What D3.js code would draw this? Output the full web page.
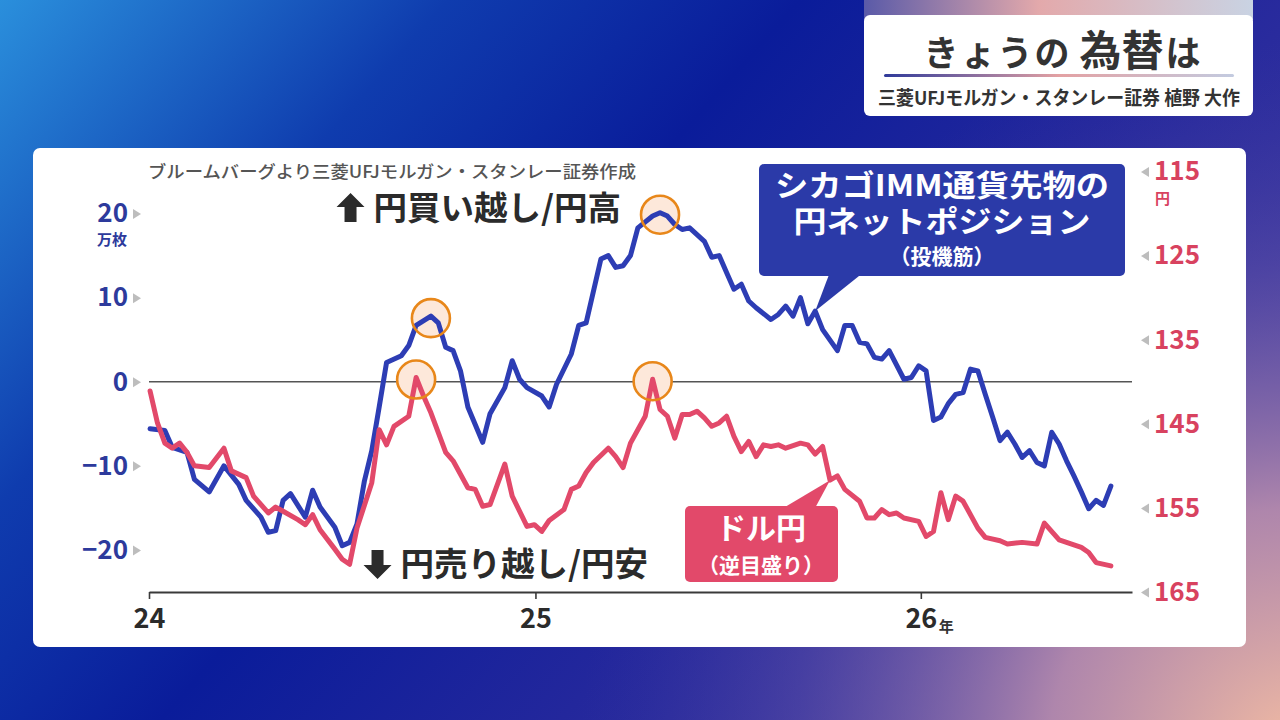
<!DOCTYPE html>
<html>
<head>
<meta charset="utf-8">
<script src="https://cdnjs.cloudflare.com/ajax/libs/d3/7.8.5/d3.min.js"></script>
<style>
  html, body { margin: 0; padding: 0; background: #0a1d9a; }
  svg { display: block; }
  text { font-family: "Noto Sans CJK JP", "Noto Sans", sans-serif; }
</style>
</head>
<body>
<svg id="chart" width="1280" height="720"></svg>
<script>
// IMM yen net position (10k contracts) as [week since 2024-01-02, value]
const immNetPosition = [
  [0,-5.6],[2,-5.8],[3,-7.8],[5,-8.4],[6,-11.6],[8,-13.1],[10,-10.0],[12,-12.2],
  [13,-14.1],[15,-16.1],[16,-17.9],[17,-17.7],[18,-14.1],[19,-13.3],[21,-16.1],
  [22,-12.9],[23,-14.9],[25,-17.3],[26,-19.5],[27,-19.1],[28,-16.9],[29,-11.8],
  [30,-8.2],[31,-3.0],[32,2.3],[34,3.1],[35,4.3],[36,6.7],[38,7.8],[39,7.0],
  [40,4.1],[41,3.7],[42,1.3],[43,-3.0],[45,-7.2],[46,-3.8],[48,-0.7],[49,2.5],
  [50,0.3],[51,-0.7],[53,-1.7],[54,-3.0],[55,-0.3],[57,3.3],[58,6.7],[59,7.0],
  [61,14.6],[62,15.0],[63,13.6],[64,13.8],[65,15.0],[66,18.3],[68,19.7],[69,20.1],
  [70,19.7],[71,18.7],[72,18.1],[73,18.3],[74,17.5],[75,16.7],[76,14.8],[77,15.0],
  [78,13.0],[79,11.0],[80,11.6],[81,9.6],[82,8.8],[84,7.4],[85,8.0],[86,9.0],
  [87,7.8],[88,10.0],[89,6.9],[90,8.4],[91,6.2],[93,3.7],[94,6.7],[95,6.7],
  [96,4.7],[97,4.5],[98,2.9],[99,2.7],[100,3.7],[102,0.3],[103,0.5],[104,1.9],
  [105,1.3],[106,-4.6],[107,-4.2],[108,-2.6],[109,-1.5],[110,-1.3],[111,1.5],
  [112,1.3],[113,-1.5],[114,-4.2],[115,-7.0],[116,-6.0],[117,-7.4],[118,-9.0],
  [119,-8.2],[120,-9.6],[121,-10.0],[122,-6.0],[123,-7.4],[124,-9.4],[125,-11.2],
  [126,-13.1],[127,-15.1],[128,-14.1],[129,-14.7],[130,-12.4]
];

// USD/JPY (inverted axis) as [week since 2024-01-02, yen]
const usdJpy = [
  [0,141.1],[1,144.9],[2,147.3],[3,147.9],[4,147.3],[5,148.4],[6,150.0],[8,150.2],
  [10,147.9],[11,150.6],[13,151.4],[14,153.6],[16,155.6],[17,154.9],[18,155.4],
  [20,156.4],[21,157.0],[22,155.8],[23,157.6],[25,159.9],[26,161.1],[27,161.7],
  [28,157.4],[30,152.0],[31,145.7],[32,147.5],[33,145.3],[35,144.1],[36,139.5],
  [37,141.7],[38,143.7],[40,148.4],[41,149.4],[43,152.6],[44,152.8],[45,154.8],
  [46,154.6],[48,149.8],[49,153.6],[51,157.2],[52,157.0],[53,157.8],[54,156.5],
  [56,155.2],[57,152.8],[58,152.4],[59,150.8],[60,149.6],[62,147.9],[63,148.9],
  [64,150.2],[65,147.3],[67,144.1],[68,139.7],[69,143.3],[70,144.1],[71,146.7],
  [72,143.9],[73,143.9],[74,143.5],[75,144.3],[76,145.3],[77,144.9],[78,144.1],
  [79,146.5],[80,148.3],[81,147.1],[82,148.9],[83,147.5],[84,147.7],[85,147.5],
  [86,147.9],[88,147.3],[89,147.5],[90,148.6],[91,147.7],[92,151.7],[93,151.2],
  [94,152.8],[96,154.2],[97,156.2],[98,156.2],[99,155.2],[100,155.8],[101,155.6],
  [102,156.2],[104,156.6],[105,158.4],[106,157.8],[107,153.2],[108,156.4],
  [109,153.6],[110,154.2],[112,157.4],[113,158.5],[115,158.9],[116,159.3],
  [118,159.1],[120,159.3],[121,156.8],[123,158.8],[124,159.1],[126,159.7],
  [127,160.3],[128,161.5],[130,161.9]
];

const leftTicks = [20, 10, 0, -10, -20];
const rightTicks = [115, 125, 135, 145, 155, 165];
const yearTicks = [2024, 2025, 2026];

// peaks marked with circles (week numbers)
const blueMarks = [38, 69];
const redMarks = [36, 68];

const startDate = new Date(2024, 0, 2);
const weekDate = w => d3.timeDay.offset(startDate, 7 * w);

const BLUE = "#2d3db4";
const RED = "#e2496a";
const NAVY = "#2d3a9c";

const svg = d3.select("#chart").attr("viewBox", "0 0 1280 720");
const defs = svg.append("defs");

// ---- background ----
const bg = defs.append("linearGradient").attr("id", "bg")
  .attr("x1", 0).attr("y1", 0).attr("x2", 1).attr("y2", 0.5);
[["0%", "#2a8fdc"], ["28%", "#0f3cae"], ["50%", "#0a1c9a"], ["75%", "#23279c"], ["100%", "#3a36a0"]]
  .forEach(([o, c]) => bg.append("stop").attr("offset", o).attr("stop-color", c));

const pink = defs.append("radialGradient").attr("id", "pink")
  .attr("gradientUnits", "userSpaceOnUse")
  .attr("cx", 1300).attr("cy", 760).attr("r", 720);
[["0%", "#f5bea2", 1], ["35%", "#c394ae", 0.85], ["70%", "#6a58a8", 0.4], ["100%", "#3a36a0", 0]]
  .forEach(([o, c, op]) => pink.append("stop").attr("offset", o).attr("stop-color", c).attr("stop-opacity", op));

svg.append("rect").attr("width", 1280).attr("height", 720).attr("fill", "url(#bg)");
svg.append("rect").attr("width", 1280).attr("height", 720).attr("fill", "url(#pink)");

// ---- title panel (top right) ----
const strip = defs.append("linearGradient").attr("id", "strip");
[["0%", "#5a5aa8"], ["45%", "#e3a9ab"], ["100%", "#c9d3e3"]]
  .forEach(([o, c]) => strip.append("stop").attr("offset", o).attr("stop-color", c));
const uline = defs.append("linearGradient").attr("id", "uline");
[["0%", "#2f3a9a"], ["50%", "#e3a1a3"], ["100%", "#c3cbe0"]]
  .forEach(([o, c]) => uline.append("stop").attr("offset", o).attr("stop-color", c));

svg.append("rect").attr("x", 864).attr("y", 0).attr("width", 389).attr("height", 20).attr("fill", "url(#strip)");
svg.append("rect").attr("x", 864).attr("y", 15).attr("width", 389).attr("height", 101).attr("rx", 6).attr("fill", "#fff");
svg.append("rect").attr("x", 884).attr("y", 74).attr("width", 350).attr("height", 3).attr("rx", 1.5).attr("fill", "url(#uline)");

const title = svg.append("text").attr("x", 1062).attr("y", 66)
  .attr("text-anchor", "middle").attr("fill", "#333").attr("font-weight", 700);
title.append("tspan").attr("font-size", 35).attr("letter-spacing", 2).text("きょうの");
title.append("tspan").attr("font-size", 42).attr("dx", 8).text("為替");
title.append("tspan").attr("font-size", 35).attr("dx", 2).text("は");

svg.append("text").attr("x", 1059).attr("y", 105)
  .attr("text-anchor", "middle").attr("fill", "#333").attr("font-weight", 700)
  .attr("font-size", 19).attr("textLength", 362).attr("lengthAdjust", "spacingAndGlyphs")
  .text("三菱UFJモルガン・スタンレー証券 植野 大作");

// ---- chart card ----
svg.append("rect").attr("x", 33).attr("y", 148).attr("width", 1213).attr("height", 499)
  .attr("rx", 7).attr("fill", "#fff");

svg.append("text").attr("x", 148).attr("y", 178)
  .attr("fill", "#555").attr("font-size", 17).attr("font-weight", 500)
  .attr("textLength", 488).attr("lengthAdjust", "spacingAndGlyphs")
  .text("ブルームバーグより三菱UFJモルガン・スタンレー証券作成");

// ---- scales ----
const x = d3.scaleTime()
  .domain([new Date(2024, 0, 1), new Date(2026, 6, 20)])
  .range([149, 1132]);
const yL = d3.scaleLinear().domain([-25, 25]).range([592, 171.5]);
const yR = d3.scaleLinear().domain([165, 115]).range([592, 171.5]);

// zero line
svg.append("line")
  .attr("x1", x.range()[0]).attr("x2", x.range()[1])
  .attr("y1", yL(0)).attr("y2", yL(0))
  .attr("stroke", "#555").attr("stroke-width", 1.6);

// x axis
const xAxis = svg.append("g").attr("transform", `translate(0,${yL(-25)})`)
  .call(d3.axisBottom(x)
    .tickValues(yearTicks.map(y => new Date(y, 0, 1)))
    .tickSizeInner(7).tickSizeOuter(0).tickPadding(10)
    .tickFormat(d => String(d.getFullYear()).slice(2)));
xAxis.select(".domain").attr("stroke", "#3a3a3a").attr("stroke-width", 2.2);
xAxis.selectAll(".tick line").attr("stroke", "#3a3a3a").attr("stroke-width", 1.6);
xAxis.selectAll(".tick text")
  .attr("font-family", '"Noto Sans CJK JP", sans-serif')
  .attr("font-size", 27).attr("font-weight", 700).attr("fill", "#2b2b2b");
svg.append("text").attr("x", x(new Date(2026, 0, 1)) + 18).attr("y", 632)
  .attr("font-size", 15).attr("font-weight", 700).attr("fill", "#333").text("年");

// left axis
const fmtL = d => d < 0 ? "−" + Math.abs(d) : String(d);
const leftAxis = svg.append("g").attr("transform", "translate(131,0)")
  .call(d3.axisLeft(yL).tickValues(leftTicks).tickSize(0).tickPadding(3).tickFormat(fmtL));
leftAxis.select(".domain").remove();
leftAxis.selectAll(".tick text")
  .attr("font-family", '"Noto Sans CJK JP", sans-serif')
  .attr("font-size", 26).attr("font-weight", 700).attr("fill", NAVY);
leftAxis.selectAll(".tick").append("path")
  .attr("d", "M2,-5L10,0L2,5Z").attr("fill", "#bdbdbd");
svg.append("text").attr("x", 127).attr("y", yL(20) + 31)
  .attr("text-anchor", "end").attr("font-size", 15).attr("font-weight", 700)
  .attr("fill", NAVY).text("万枚");

// right axis
const rightAxis = svg.append("g").attr("transform", "translate(1151,0)")
  .call(d3.axisRight(yR).tickValues(rightTicks).tickSize(0).tickPadding(3));
rightAxis.select(".domain").remove();
rightAxis.selectAll(".tick text")
  .attr("font-family", '"Noto Sans CJK JP", sans-serif')
  .attr("font-size", 26).attr("font-weight", 700).attr("fill", "#d8425f");
rightAxis.selectAll(".tick").append("path")
  .attr("d", "M-2,-5L-10,0L-2,5Z").attr("fill", "#bdbdbd");
svg.append("text").attr("x", 1155).attr("y", yR(115) + 32)
  .attr("font-size", 15).attr("font-weight", 700).attr("fill", "#d8425f").text("円");

// ---- direction labels ----
function dirLabel(txt, endX, yMid, up) {
  const t = svg.append("text").attr("x", endX).attr("y", yMid + 12)
    .attr("text-anchor", "end").attr("font-size", 33.5).attr("font-weight", 700)
    .attr("fill", "#2b2b2b").text(txt);
  const w = t.node().getComputedTextLength();
  const ax = endX - w - 23;
  const s = up ? -1 : 1;
  const head = yMid + s * 15, base = yMid + s * 1, tail = yMid - s * 14;
  const p = `M${ax - 14},${base}L${ax},${head}L${ax + 14},${base}L${ax + 6},${base}L${ax + 6},${tail}L${ax - 6},${tail}L${ax - 6},${base}Z`;
  svg.append("path").attr("d", p).attr("fill", "#2b2b2b");
}
dirLabel("円買い越し/円高", 621, 208, true);
dirLabel("円売り越し/円安", 648, 564, false);

// ---- lines ----
const lineL = d3.line().x(d => x(weekDate(d[0]))).y(d => yL(d[1]));
const lineR = d3.line().x(d => x(weekDate(d[0]))).y(d => yR(d[1]));

const findPt = (arr, w) => arr.find(d => d[0] === w);
const marks = blueMarks.map(w => [x(weekDate(w)), yL(findPt(immNetPosition, w)[1])])
  .concat(redMarks.map(w => [x(weekDate(w)), yR(findPt(usdJpy, w)[1])]));

// circle fills under the lines
svg.selectAll(".markfill").data(marks).join("circle").attr("class", "markfill")
  .attr("cx", d => d[0]).attr("cy", d => d[1] + 2).attr("r", 19)
  .attr("fill", "#fde8da");

svg.append("path").datum(immNetPosition).attr("d", lineL)
  .attr("fill", "none").attr("stroke", BLUE).attr("stroke-width", 5)
  .attr("stroke-linejoin", "round").attr("stroke-linecap", "round");
svg.append("path").datum(usdJpy).attr("d", lineR)
  .attr("fill", "none").attr("stroke", RED).attr("stroke-width", 5)
  .attr("stroke-linejoin", "round").attr("stroke-linecap", "round");

svg.selectAll(".markring").data(marks).join("circle").attr("class", "markring")
  .attr("cx", d => d[0]).attr("cy", d => d[1] + 2).attr("r", 19)
  .attr("fill", "none").attr("stroke", "#e8871a").attr("stroke-width", 2.6);

// ---- callouts ----
const bTip = findPt(immNetPosition, 90);
const bx = x(weekDate(90)), by = yL(bTip[1]);
svg.append("path").attr("d", `M830,272L${bx},${by}L864,272Z`).attr("fill", "#2b3aa8");
svg.append("rect").attr("x", 759).attr("y", 164).attr("width", 366).attr("height", 112)
  .attr("rx", 5).attr("fill", "#2b3aa8");
const boxLine = (sel, txt, y, size, len) => {
  const t = sel.append("text").attr("x", 942).attr("y", y)
    .attr("text-anchor", "middle").attr("fill", "#fff").attr("font-weight", 700)
    .attr("font-size", size).text(txt);
  if (len) t.attr("textLength", len).attr("lengthAdjust", "spacingAndGlyphs");
};
boxLine(svg, "シカゴIMM通貨先物の", 196, 30, 334);
boxLine(svg, "円ネットポジション", 232, 30, 297);
boxLine(svg, "（投機筋）", 264, 21, null);

const rTip = findPt(usdJpy, 92);
const rx = x(weekDate(92)), ry = yR(rTip[1]);
svg.append("path").attr("d", `M780,510L${rx},${ry}L814,510Z`).attr("fill", RED);
svg.append("rect").attr("x", 685).attr("y", 506).attr("width", 153).attr("height", 76)
  .attr("rx", 5).attr("fill", RED);
svg.append("text").attr("x", 761).attr("y", 539).attr("text-anchor", "middle")
  .attr("fill", "#fff").attr("font-weight", 700).attr("font-size", 30).text("ドル円");
svg.append("text").attr("x", 761).attr("y", 573).attr("text-anchor", "middle")
  .attr("fill", "#fff").attr("font-weight", 700).attr("font-size", 21).text("（逆目盛り）");
</script>
</body>
</html>
